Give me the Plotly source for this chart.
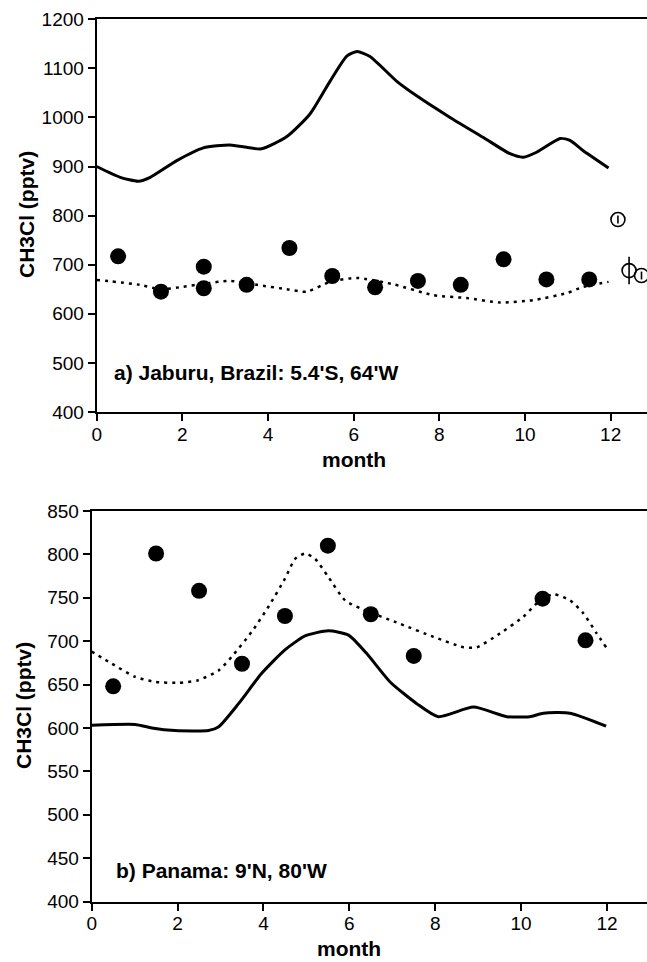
import plotly.graph_objects as go

# ---------------- Panel a) Jaburu, Brazil ----------------
a_model_x = [0, 0.55, 0.97, 1.25, 1.87, 2.49, 3.11, 3.5, 3.85, 4.44, 4.98, 5.45, 5.84, 6.08, 6.38,
             7.0, 7.47, 8.25, 9.03, 9.65, 9.96, 10.27, 10.82, 11.05, 11.36, 11.95]
a_model_y = [900, 878, 870, 878, 912, 938, 944, 939, 936, 961, 1007, 1074, 1125, 1134, 1124,
             1074, 1044, 1000, 959, 926, 919, 929, 957, 953, 932, 897]

a_dot_x = [0, 1.01, 1.48, 2.02, 2.49, 3.11, 3.74, 4.44, 4.9, 5.45, 6.07, 6.93, 7.86, 8.64, 9.42,
           10.2, 10.97, 11.36, 11.95]
a_dot_y = [669, 659, 650, 655, 661, 667, 659, 650, 645, 665, 673, 660, 638, 632, 623,
           628, 642, 655, 665]

a_obs_x = [0.5, 1.5, 2.5, 2.5, 3.5, 4.5, 5.5, 6.5, 7.5, 8.5, 9.5, 10.5, 11.5]
a_obs_y = [717, 645, 696, 652, 659, 734, 677, 654, 667, 659, 711, 670, 670]

a_open_x = [12.17, 12.43, 12.72]
a_open_y = [792, 688, 678]
a_open_err = [8, 28, 8]

# ---------------- Panel b) Panama ----------------
b_model_x = [0, 1.01, 1.4, 1.94, 2.72, 2.95, 3.42, 3.96, 4.5, 4.97, 5.51, 5.98, 6.4, 6.95,
             7.57, 8.07, 8.89, 9.67, 10.2, 10.52, 11.14, 11.98]
b_model_y = [603, 604, 600, 597, 597, 601, 628, 663, 690, 706, 712, 707, 686, 653,
             628, 613, 624, 613, 613, 617, 617, 602]

b_dot_x = [0, 0.47, 1.01, 1.48, 2.02, 2.48, 2.95, 3.26, 3.73, 4.12, 4.5, 4.74, 4.97, 5.2, 5.51,
           5.9, 6.29, 7.18, 7.96, 8.66, 8.97, 9.51, 10.05, 10.44, 10.75, 11.14, 11.45, 11.76, 11.98]
b_dot_y = [688, 674, 659, 653, 652, 655, 666, 682, 711, 740, 772, 795, 801, 795, 774,
           747, 737, 720, 705, 693, 693, 709, 728, 747, 754, 747, 732, 709, 693]

b_obs_x = [0.5, 1.5, 2.5, 3.5, 4.5, 5.5, 6.5, 7.5, 10.5, 11.5]
b_obs_y = [648, 801, 758, 674, 729, 810, 731, 683, 749, 701]

x_ticks = [0, 2, 4, 6, 8, 10, 12]
a_y_ticks = [400, 500, 600, 700, 800, 900, 1000, 1100, 1200]
b_y_ticks = [400, 450, 500, 550, 600, 650, 700, 750, 800, 850]

W, H = 647, 962
FONT = "Liberation Sans, Arial, sans-serif"

fig = go.Figure()

solid = dict(color="black", width=3, shape="spline", smoothing=0.6)
dotted = dict(color="black", width=2.5, dash="3px,5px", shape="spline", smoothing=0.6)
filled = dict(color="black", size=16, symbol="circle")

fig.add_trace(go.Scatter(x=a_model_x, y=a_model_y, mode="lines", line=solid, xaxis="x", yaxis="y"))
fig.add_trace(go.Scatter(x=a_dot_x, y=a_dot_y, mode="lines", line=dotted, xaxis="x", yaxis="y"))
fig.add_trace(go.Scatter(x=a_obs_x, y=a_obs_y, mode="markers", marker=filled, xaxis="x", yaxis="y"))
fig.add_trace(go.Scatter(x=a_open_x, y=a_open_y, mode="markers",
                         marker=dict(symbol="circle-open", size=14, color="black", line=dict(width=1.6)),
                         error_y=dict(type="data", array=a_open_err, visible=True, color="black",
                                      thickness=1.6, width=0),
                         xaxis="x", yaxis="y"))

fig.add_trace(go.Scatter(x=b_model_x, y=b_model_y, mode="lines", line=solid, xaxis="x2", yaxis="y2"))
fig.add_trace(go.Scatter(x=b_dot_x, y=b_dot_y, mode="lines", line=dotted, xaxis="x2", yaxis="y2"))
fig.add_trace(go.Scatter(x=b_obs_x, y=b_obs_y, mode="markers", marker=filled, xaxis="x2", yaxis="y2"))

def px_x(p):
    return p / W

def px_y(p):
    return (H - p) / H

axis_common = dict(showline=True, linecolor="black", linewidth=2, ticks="outside", ticklen=7,
                   tickwidth=2, tickcolor="black", showgrid=False, zeroline=False,
                   tickfont=dict(family=FONT, size=19, color="black"), automargin=False,
                   fixedrange=True)

fig.update_layout(
    width=W, height=H,
    margin=dict(l=0, r=0, t=0, b=0),
    paper_bgcolor="white", plot_bgcolor="white",
    showlegend=False,
    xaxis=dict(**axis_common, domain=[px_x(96.7), 1], range=[0, (W - 96.7) / 42.83],
               tickvals=x_ticks, mirror=True, anchor="y", ticklabelstandoff=-3),
    yaxis=dict(**axis_common, domain=[px_y(412), px_y(19.2)], range=[400, 1200],
               tickvals=a_y_ticks, anchor="x"),
    xaxis2=dict(**axis_common, domain=[px_x(91.7), 1], range=[0, (W - 91.7) / 42.94],
                tickvals=x_ticks, mirror=True, anchor="y2", ticklabelstandoff=-3),
    yaxis2=dict(**axis_common, domain=[px_y(901.5), px_y(511)], range=[400, 850],
                tickvals=b_y_ticks, anchor="x2"),
)

title_font = dict(family=FONT, size=21, color="black", weight="bold")
ann = [
    dict(text="a) Jaburu, Brazil: 5.4'S, 64'W", x=px_x(112), y=px_y(372), xanchor="left", yanchor="middle"),
    dict(text="b) Panama: 9'N, 80'W", x=px_x(114), y=px_y(870), xanchor="left", yanchor="middle"),
    dict(text="month", x=px_x(96.7 + 6 * 42.83), y=px_y(459), xanchor="center", yanchor="middle"),
    dict(text="month", x=px_x(91.7 + 6 * 42.94), y=px_y(948), xanchor="center", yanchor="middle"),
    dict(text="CH3Cl (pptv)", x=px_x(26), y=px_y(215), xanchor="center", yanchor="middle", textangle=-90),
    dict(text="CH3Cl (pptv)", x=px_x(23), y=px_y(706), xanchor="center", yanchor="middle", textangle=-90),
]
for a in ann:
    fig.add_annotation(xref="paper", yref="paper", showarrow=False, font=title_font, **a)

fig.write_html("out.html")
